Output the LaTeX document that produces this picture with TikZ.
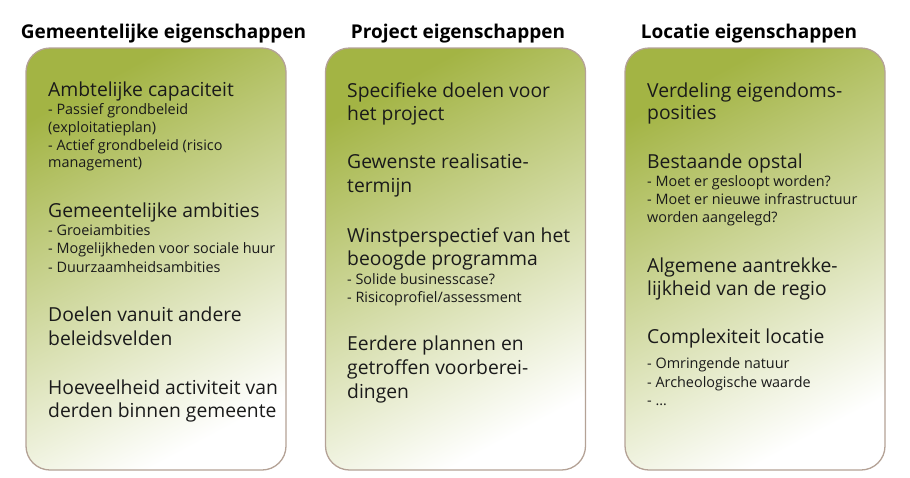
\documentclass[tikz,border=0pt]{standalone}
\usepackage{fontspec}
\setmainfont{Open Sans}
\definecolor{olivetop}{HTML}{A3B444}
\definecolor{panelend}{HTML}{FFFFFF}
\definecolor{panelborder}{HTML}{B4A296}
\definecolor{txt}{HTML}{1A1A1A}
\tikzset{
  panel/.style={draw=panelborder, line width=1.3pt, rounded corners=24pt,
    top color=olivetop, bottom color=panelend, shading angle=28,
    minimum width=260pt, minimum height=422pt, inner sep=0pt},
  hdr/.style={anchor=base, inner sep=0pt, font=\bfseries\fontsize{19}{22}\selectfont},
  big/.style={anchor=base west, inner sep=0pt, text=txt, font=\fontsize{19.3}{23}\selectfont},
  small/.style={anchor=base west, inner sep=0pt, text=txt, font=\fontsize{14.4}{17}\selectfont},
}
\begin{document}
\begin{tikzpicture}[x=1pt, y=-1pt]
\useasboundingbox (0,0) rectangle (910,477);
% panels
\node[panel] (P1) at (156,259) {};
\node[panel] (P2) at (455.5,259) {};
\node[panel] (P3) at (755,259) {};
% headers
\node[hdr] (H1) at (163.5,38) {Gemeentelijke eigenschappen};
\node[hdr] (H2) at (458,38) {Project eigenschappen};
\node[hdr] (H3) at (749,38) {Locatie eigenschappen};
% left column
\foreach \y/\s/\t [count=\i] in {
  96/big/{Ambtelijke capaciteit},
  114/small/{- Passief grondbeleid},
  132/small/{(exploitatieplan)},
  150/small/{- Actief grondbeleid (risico},
  167/small/{management)},
  217/big/{Gemeentelijke ambities},
  235/small/{- Groeiambities},
  253/small/{- Mogelijkheden voor sociale huur},
  272/small/{- Duurzaamheidsambities},
  321/big/{Doelen vanuit andere},
  345/big/{beleidsvelden},
  394/big/{Hoeveelheid activiteit van},
  417/big/{derden binnen gemeente}}
  \node[\s] (A\i) at (48,\y) {\t};
% middle column
\foreach \y/\s/\t [count=\i] in {
  97/big/{Specifieke doelen voor},
  120/big/{het project},
  168/big/{Gewenste realisatie-},
  192/big/{termijn},
  242/big/{Winstperspectief van het},
  265/big/{beoogde programma},
  284/small/{- Solide businesscase?},
  302/small/{- Risicoprofiel/assessment},
  350/big/{Eerdere plannen en},
  374/big/{getroffen voorberei-},
  398/big/{dingen}}
  \node[\s] (B\i) at (347,\y) {\t};
% right column
\foreach \y/\s/\t [count=\i] in {
  97/big/{Verdeling eigendoms-},
  119/big/{posities},
  168/big/{Bestaande opstal},
  186/small/{- Moet er gesloopt worden?},
  204/small/{- Moet er nieuwe infrastructuur},
  222/small/{worden aangelegd?},
  272/big/{Algemene aantrekke-},
  295/big/{lijkheid van de regio},
  343/big/{Complexiteit locatie},
  368/small/{- Omringende natuur},
  387/small/{- Archeologische waarde},
  405/small/{- …}}
  \node[\s] (C\i) at (647,\y) {\t};
\end{tikzpicture}
\end{document}
